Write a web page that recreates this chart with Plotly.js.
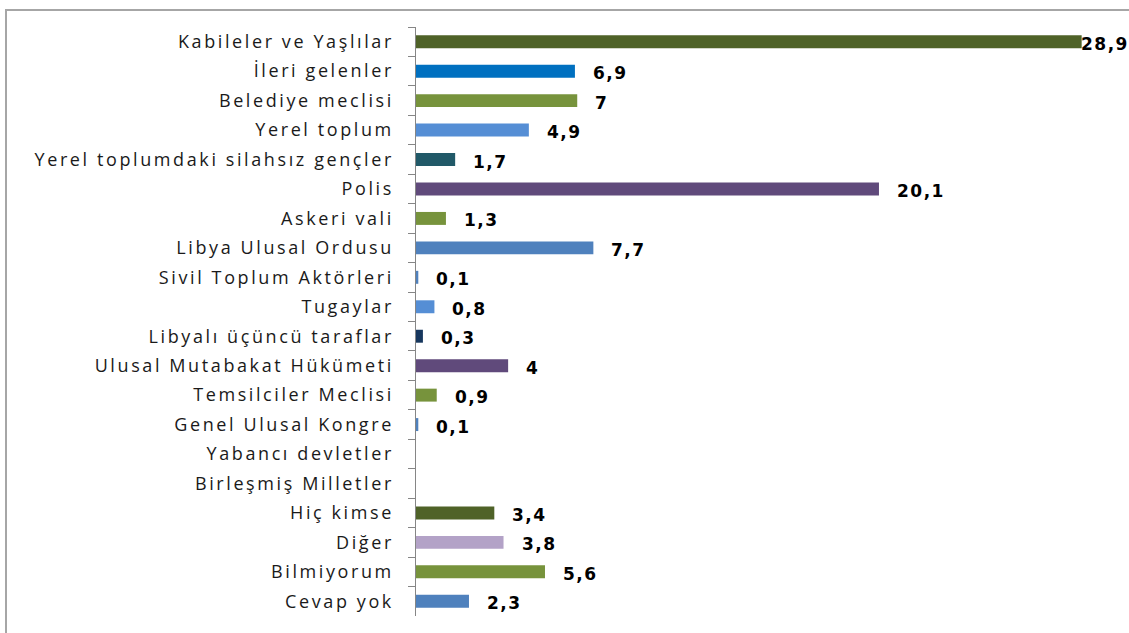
<!DOCTYPE html>
<html>
<head>
<meta charset="utf-8">
<script src="https://cdn.plot.ly/plotly-3.0.1.min.js"></script>
<style>
  html, body { margin: 0; padding: 0; background: #fff; }
  #frame { position: absolute; left: 5px; top: 9px; width: 1124px; height: 624px;
           border-top: 2px solid #a6a6a6; border-left: 2px solid #a6a6a6; box-sizing: border-box; }
  #chart { position: absolute; left: 0; top: 0; width: 1129px; height: 633px; }
  .annotation-text { letter-spacing: 1.5px; font-weight: bold !important; }
  .ytick text { letter-spacing: 2.6px; }
</style>
</head>
<body>
<div id="frame"></div>
<div id="chart"></div>
<script>
const categories = [
  "Kabileler ve Yaşlılar",
  "İleri gelenler",
  "Belediye meclisi",
  "Yerel toplum",
  "Yerel toplumdaki silahsız gençler",
  "Polis",
  "Askeri vali",
  "Libya Ulusal Ordusu",
  "Sivil Toplum Aktörleri",
  "Tugaylar",
  "Libyalı üçüncü taraflar",
  "Ulusal Mutabakat Hükümeti",
  "Temsilciler Meclisi",
  "Genel Ulusal Kongre",
  "Yabancı devletler",
  "Birleşmiş Milletler",
  "Hiç kimse",
  "Diğer",
  "Bilmiyorum",
  "Cevap yok"
];
const values = [28.9, 6.9, 7, 4.9, 1.7, 20.1, 1.3, 7.7, 0.1, 0.8, 0.3, 4, 0.9, 0.1, null, null, 3.4, 3.8, 5.6, 2.3];
const valueLabels = ["28,9", "6,9", "7", "4,9", "1,7", "20,1", "1,3", "7,7", "0,1", "0,8", "0,3", "4", "0,9", "0,1", "", "", "3,4", "3,8", "5,6", "2,3"];
const barColors = [
  "#4F6228", "#0070C0", "#77933C", "#558ED5", "#215968",
  "#604A7B", "#77933C", "#4F81BD", "#4F81BD", "#558ED5",
  "#17375E", "#604A7B", "#77933C", "#4F81BD", "#4F81BD",
  "#4F81BD", "#4F6228", "#B3A2C7", "#77933C", "#4F81BD"
];

const maxVal = Math.max(...values.filter(v => v !== null));

const trace = {
  type: "bar",
  orientation: "h",
  y: categories,
  x: values,
  marker: { color: barColors, line: { width: 0 } },
  width: 0.44,
  hoverinfo: "skip"
};

const annotations = [];
categories.forEach((c, i) => {
  if (values[i] === null) return;
  annotations.push({
    x: values[i], y: c, xref: "x", yref: "y",
    text: "<b>" + valueLabels[i] + "</b>", showarrow: false,
    xanchor: "left", yanchor: "middle",
    xshift: values[i] === maxVal ? -3 : 16,
    yshift: -2,
    font: { family: "DejaVu Sans", size: 17, color: "#000" }
  });
});

const layout = {
  width: 1129, height: 633,
  margin: { l: 416, r: 22, t: 27, b: 17 },
  paper_bgcolor: "rgba(0,0,0,0)",
  plot_bgcolor: "rgba(0,0,0,0)",
  showlegend: false,
  xaxis: {
    range: [0, 30], visible: false, fixedrange: true
  },
  yaxis: {
    type: "category",
    autorange: "reversed",
    showline: true, linecolor: "#868686", linewidth: 1.5,
    ticks: "outside", ticklen: 7, tickcolor: "#868686", tickwidth: 1,
    tickson: "boundaries",
    ticklabelstandoff: 17,
    showgrid: false, zeroline: false,
    tickfont: { family: "Open Sans", size: 18, color: "#1a1a1a" }
  },
  annotations: annotations
};

Plotly.newPlot("chart", [trace], layout, { displayModeBar: false, staticPlot: true });
</script>
</body>
</html>
